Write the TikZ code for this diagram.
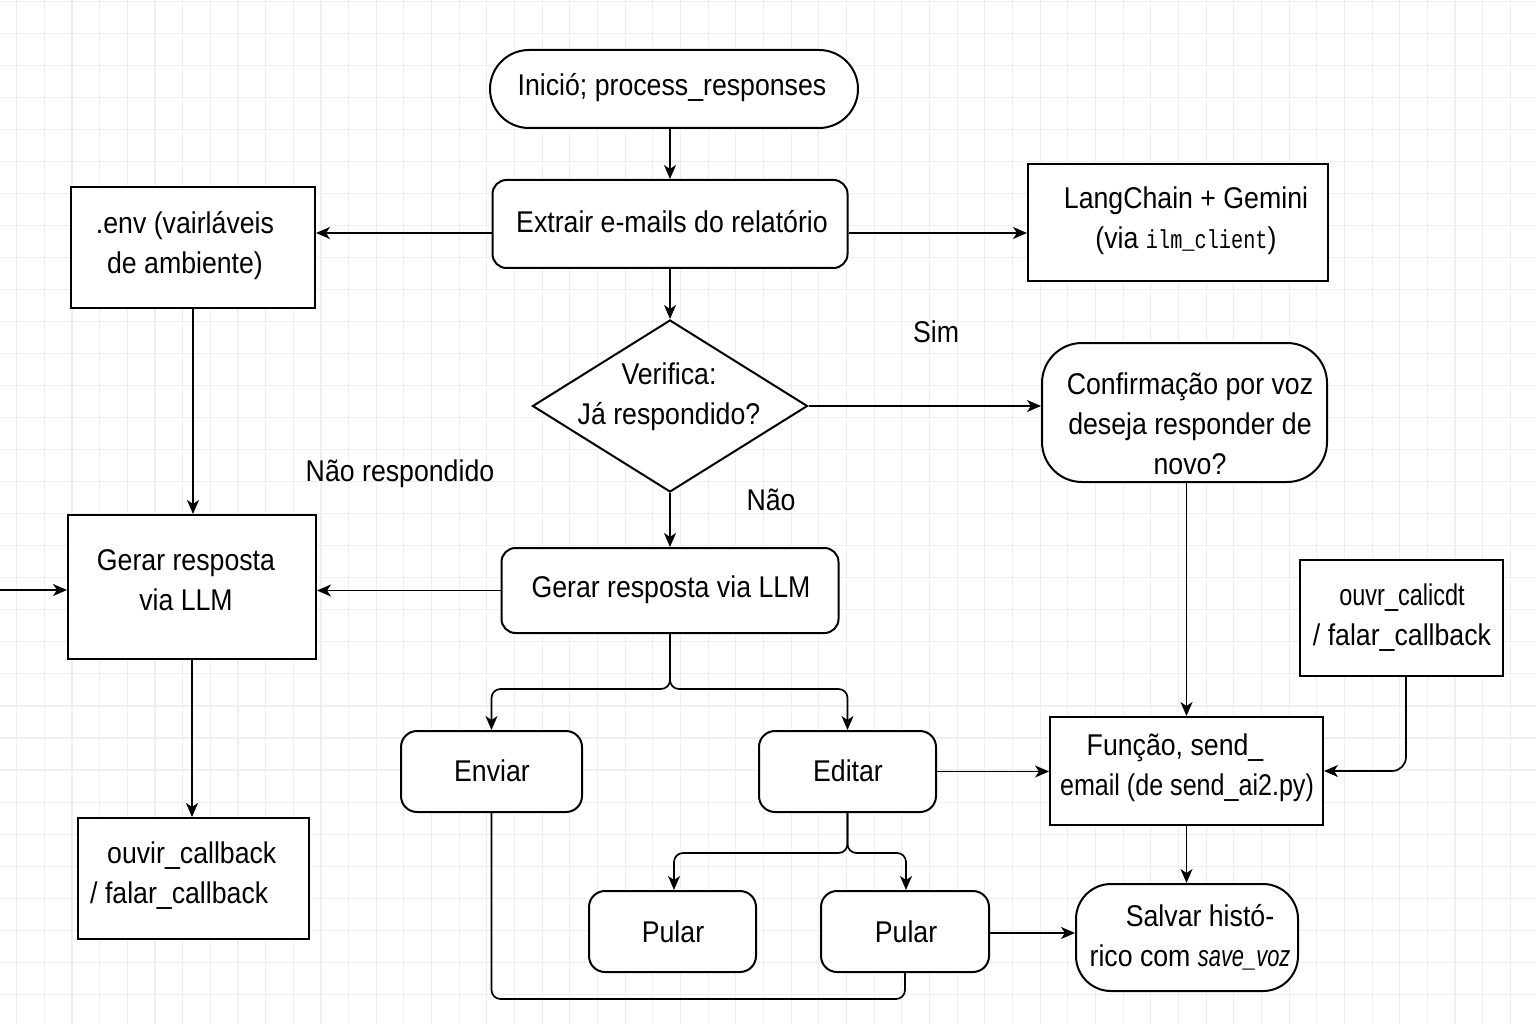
\documentclass[tikz,border=0pt]{standalone}
\usepackage{fontspec}
\usepackage{graphicx}
\setmainfont{Liberation Sans}[FakeStretch=0.89]
\setmonofont{Liberation Mono}
\usetikzlibrary{arrows.meta,shapes.geometric,calc}
\definecolor{gridc}{HTML}{EFEFEF}
\begin{document}
\begin{tikzpicture}[x=1pt,y=-1pt,
  box/.style={draw=black, line width=2pt, fill=white, inner sep=0pt},
  rbox/.style={box, rounded corners=14pt},
  conn/.style={line width=1.7pt, -{Stealth[length=14pt,width=12pt,inset=4pt]}},
  plainline/.style={line width=1.7pt},
  txt/.style={font=\fontsize{30}{40}\selectfont, align=center, inner sep=0pt},
  gridl/.style={draw=gridc, line width=1.1pt}]
\useasboundingbox (0,0) rectangle (1536,1024);
\fill[white] (0,0) rectangle (1536,1024);
% grid
\foreach \i in {0,...,55} {\draw[gridl] ({16.7+\i*27.66},0) -- ({16.7+\i*27.66},1024);}
\foreach \j in {0,...,31} {\draw[gridl] (0,{1.3+\j*32.03}) -- (1536,{1.3+\j*32.03});}

% shapes
\node[box, rounded corners=39pt, minimum width=368pt, minimum height=78pt] (start) at (674,89) {};
\node[rbox, minimum width=355pt, minimum height=88pt] (extrair) at (670,224) {};
\node[box, minimum width=244pt, minimum height=121pt] (env) at (193,247.5) {};
\node[box, minimum width=300pt, minimum height=117pt] (lang) at (1178,222.5) {};
\node[box, diamond, minimum width=275pt, minimum height=172pt] (dec) at (670,406) {};
\node[box, rounded corners=40pt, minimum width=285pt, minimum height=139pt] (conf) at (1184.5,412.5) {};
\node[rbox, minimum width=337pt, minimum height=85pt] (gllm) at (670,590.5) {};
\node[box, minimum width=248pt, minimum height=144pt] (gleft) at (192,587) {};
\node[box, minimum width=231pt, minimum height=121pt] (ouvir1) at (193.5,878.5) {};
\node[rbox, rounded corners=16pt, minimum width=181pt, minimum height=81pt] (enviar) at (491.5,771.5) {};
\node[rbox, rounded corners=16pt, minimum width=177pt, minimum height=81pt] (editar) at (847.5,771.5) {};
\node[rbox, rounded corners=16pt, minimum width=167pt, minimum height=81pt] (pular1) at (672.5,931.5) {};
\node[rbox, rounded corners=16pt, minimum width=168pt, minimum height=81pt] (pular2) at (905,931.5) {};
\node[box, minimum width=273pt, minimum height=108pt] (funcao) at (1186.5,771) {};
\node[box, minimum width=203pt, minimum height=116pt] (ouvir2) at (1401.5,618) {};
\node[box, rounded corners=35pt, minimum width=222pt, minimum height=107pt] (salvar) at (1187,937.5) {};

% texts
\node[txt] (tstart) at (672,88) {Inició; process\_responses};
\node[txt] (textr) at (672,222) {Extrair e-mails do relatório};
\node[txt] (tenv) at (185,246) {.env (vairláveis\\de ambiente)};
\node[txt] (tlang) at (1186,221) {LangChain + Gemini\\(via \scalebox{0.78}[1]{\fontsize{26}{40}\selectfont\ttfamily ilm\_client})};
\node[txt] (tdec) at (669,397) {Verifica:\\Já respondido?};
\node[txt] (tconf) at (1190,424) {Confirmação por voz\\deseja responder de\\novo?};
\node[txt] (tgllm) at (671,590) {Gerar resposta via LLM};
\node[txt] (tgleft) at (186,580) {Gerar resposta\\via LLM};
\node[txt, align=left, anchor=west] (touv1) at (90,876) {\hspace*{17pt}ouvir\_callback\\/ falar\_callback};
\node[txt] (tenv2) at (492,771) {Enviar};
\node[txt] (tedit) at (848,771) {Editar};
\node[txt] (tpul1) at (673,932) {Pular};
\node[txt] (tpul2) at (906,932) {Pular};
\node[txt] (tfunc) at (1187,768) {Função, send\_\hspace*{24pt}\\\scalebox{0.94}[1]{email (de send\_ai2.py)}};
\node[txt] (touv2) at (1402,618) {\scalebox{0.88}[1]{ouvr\_calicdt}\\/ falar\_callback};
\node[txt] (tsalv) at (1190,937) {\hspace*{20pt}Salvar histó-\\rico com \scalebox{0.82}[1]{\textit{save\_voz}}};
\node[txt] (lsim) at (936,332) {Sim};
\node[txt] (lnao) at (771,500) {Não};
\node[txt] (lnaor) at (400,474) {Não respondido};

% connectors
\coordinate (e1) at ($(extrair.west)+(0,9)$);
\coordinate (e2) at ($(extrair.east)+(0,9)$);
\coordinate (leftin) at (0,590);
\coordinate (bottomrun) at ($(pular2.south)+(0,26)$);

\draw[conn] (extrair.north |- start.south) -- (extrair.north);
\draw[conn] (e1) -- (e1 -| env.east);
\draw[conn] (e2) -- (e2 -| lang.west);
\draw[conn] (extrair.south) -- (dec.north);
\draw[conn] (dec.east) -- (dec.east -| conf.west);
\draw[conn] (dec.south) -- (gllm.north);
\draw[conn] (gllm.west) -- (gllm.west -| gleft.east);
\draw[conn] (env.south) -- (env.south |- gleft.north);
\draw[conn] (leftin) -- (leftin -| gleft.west);
\draw[conn] (gleft.south) -- (gleft.south |- ouvir1.north);
\draw[conn, rounded corners=9pt] (gllm.south) -- ++(0,55) -| (enviar.north);
\draw[conn, rounded corners=9pt] (gllm.south) -- ++(0,55) -| (editar.north);
\draw[conn] (editar.east) -- (editar.east -| funcao.west);
\draw[conn, rounded corners=9pt] (editar.south) -- ++(0,40) -| ($(pular1.north)+(1.5,0)$);
\draw[conn, rounded corners=9pt] (editar.south) -- ++(0,40) -| ($(pular2.north)+(1,0)$);
\draw[conn] ($(pular2.east)+(0,1.5)$) -- ($(pular2.east -| salvar.west)+(0,1.5)$);
\draw[plainline, rounded corners=9pt] (enviar.south) |- (bottomrun) -- (pular2.south);
\draw[conn] (conf.south -| funcao.north) -- (funcao.north);
\draw[conn, rounded corners=14pt] ($(ouvir2.south)+(4.5,0)$) |- (funcao.east);
\draw[conn] (funcao.south) -- (funcao.south |- salvar.north);
\end{tikzpicture}
\end{document}
